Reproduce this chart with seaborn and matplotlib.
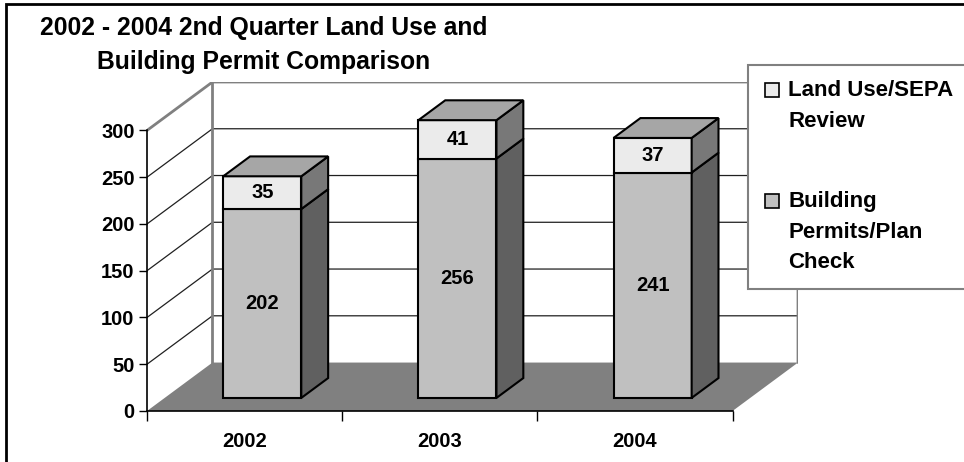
import matplotlib
matplotlib.use("Agg")
import matplotlib.pyplot as plt
from matplotlib.patches import Polygon, Rectangle
import seaborn as sns

# data
years = ["2002", "2003", "2004"]
building = [202, 256, 241]
landuse = [35, 41, 37]
yticks = [0, 50, 100, 150, 200, 250, 300]
legend_labels = ["Land Use/SEPA\nReview", "Building\nPermits/Plan\nCheck"]

sns.set_theme(style="white")
plt.rcParams["font.family"] = ["Liberation Sans", "DejaVu Sans"]
plt.rcParams["font.weight"] = "bold"
plt.rcParams["text.color"] = "black"
plt.rcParams["xtick.color"] = "black"
plt.rcParams["ytick.color"] = "black"

W, H = 964, 462
fig = plt.figure(figsize=(W / 100, H / 100), dpi=100)
ax = fig.add_axes([147 / W, (H - 411) / H, 651 / W, 329 / H])

# oblique 3d offset (back wall), in data units
DX = 0.3354
DY = 51.8
ymax = 300


def P(x, v, d):
    return (x + d * DX, v + d * DY)


ax.set_xlim(-0.5, 2.5 + DX)
ax.set_ylim(0, ymax + DY)

wall = "#808080"
# floor
ax.add_patch(Polygon([P(-0.5, 0, 0), P(2.5, 0, 0), P(2.5, 0, 1), P(-0.5, 0, 1)],
                     closed=True, fc="#808080", ec="none", zorder=1))
# gridlines on side and back wall
for v in yticks[1:-1]:
    pts = [P(-0.5, v, 0), P(-0.5, v, 1), P(2.5, v, 1)]
    ax.plot([p[0] for p in pts], [p[1] for p in pts], color="#202020", lw=0.9, zorder=1)
# wall edges
pts = [P(-0.5, ymax, 0), P(-0.5, ymax, 1), P(2.5, ymax, 1), P(2.5, 0, 1)]
ax.plot([p[0] for p in pts], [p[1] for p in pts], color=wall, lw=2, zorder=1)
pts = [P(-0.5, 0, 1), P(-0.5, ymax, 1)]
ax.plot([p[0] for p in pts], [p[1] for p in pts], color=wall, lw=2, zorder=1)

# bars
d0, d1, hw = 0.27, 0.68, 0.2
cols = {
    "low": ("#c0c0c0", "#606060", None),
    "up": ("#ebebeb", "#787878", "#a6a6a6"),
}
for i in range(len(years)):
    segs = [(0, building[i], "low"), (building[i], building[i] + landuse[i], "up")]
    for lo, hi, key in segs:
        front, side, top = cols[key]
        kw = dict(closed=True, ec="black", lw=1.5, joinstyle="miter", zorder=3)
        ax.add_patch(Polygon([P(i - hw, lo, d0), P(i + hw, lo, d0), P(i + hw, hi, d0), P(i - hw, hi, d0)],
                             fc=front, **kw))
        ax.add_patch(Polygon([P(i + hw, lo, d0), P(i + hw, lo, d1), P(i + hw, hi, d1), P(i + hw, hi, d0)],
                             fc=side, **kw))
        if top is not None:
            ax.add_patch(Polygon([P(i - hw, hi, d0), P(i + hw, hi, d0), P(i + hw, hi, d1), P(i - hw, hi, d1)],
                                 fc=top, **kw))
        tx, ty = P(i, (lo + hi) / 2, d0)
        ax.text(tx, ty, str(hi - lo), ha="center", va="center", fontsize=14.5,
                fontweight="bold", zorder=4)

# axes
for s in ["top", "right"]:
    ax.spines[s].set_visible(False)
ax.spines["left"].set_bounds(0, ymax)
ax.spines["bottom"].set_bounds(-0.5, 2.5)
for s in ["left", "bottom"]:
    ax.spines[s].set_color("black")
    ax.spines[s].set_linewidth(1.2)
    ax.spines[s].set_zorder(2)
ax.set_yticks(yticks)
ax.set_yticklabels([str(t) for t in yticks], fontsize=14.5, fontweight="bold")
ax.set_xticks(range(len(years)))
ax.set_xticklabels(years, fontsize=14.5, fontweight="bold")
ax.set_xticks([-0.5, 0.5, 1.5, 2.5], minor=True)
ax.tick_params(axis="y", direction="out", length=6, width=1, left=True, pad=3)
ax.tick_params(axis="x", which="major", length=0, pad=15)
ax.tick_params(axis="x", which="minor", direction="out", length=7, width=1, bottom=True)
ax.patch.set_alpha(0)

# title
fig.text(264 / W, 1 - 45 / H, "2002 - 2004 2nd Quarter Land Use and\nBuilding Permit Comparison",
         ha="center", va="center", fontsize=17.8, fontweight="bold", linespacing=1.5)

# legend (drawn by hand so the swatch sits on the first text line)
fig.add_artist(Rectangle((748 / W, 1 - 289 / H), 230 / W, 224 / H, transform=fig.transFigure,
                         fill=True, fc="white", ec="#808080", lw=1.5, zorder=5))
for lab, fc, ytop in [(legend_labels[0], "#ebebeb", 80), (legend_labels[1], "#c0c0c0", 191)]:
    fig.add_artist(Rectangle((765 / W, 1 - (ytop + 17) / H), 14 / W, 14 / H, transform=fig.transFigure,
                             fc=fc, ec="black", lw=1.2, zorder=6))
    fig.text(788 / W, 1 - ytop / H, lab, ha="left", va="top", fontsize=16, fontweight="bold",
             linespacing=1.6, zorder=6)

# outer frame
fig.add_artist(Rectangle((6 / W, -0.5), 2, 1.5 - 4 / H, transform=fig.transFigure,
                         fill=False, ec="black", lw=2, zorder=10))

fig.savefig("out.png", dpi=100)
